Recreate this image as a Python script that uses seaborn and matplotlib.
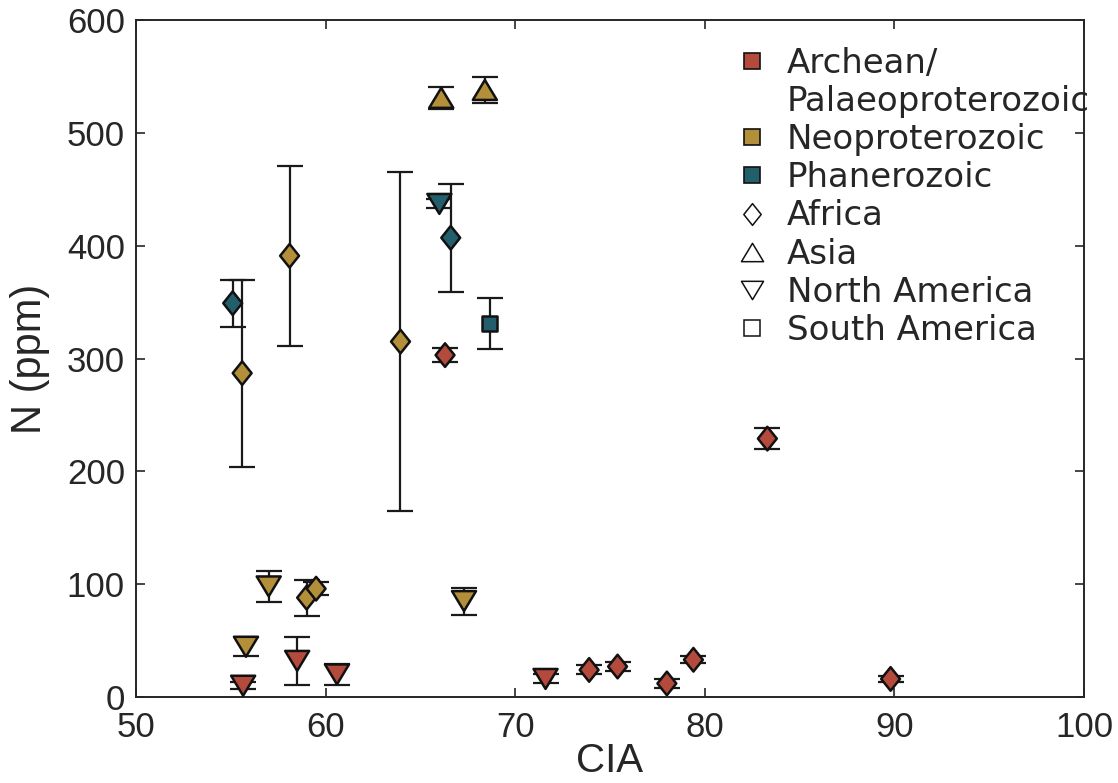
import numpy as np
import pandas as pd
import matplotlib
matplotlib.use("Agg")
import matplotlib.pyplot as plt
import seaborn as sns
from matplotlib.lines import Line2D
from matplotlib.path import Path

# ---------------- data ----------------
era = (["Archean/Palaeoproterozoic"] * 11
       + ["Neoproterozoic"] * 10
       + ["Phanerozoic"] * 4)
region = (["Africa"] * 7 + ["North America"] * 4
          + ["Africa"] * 5 + ["Asia"] * 2 + ["North America"] * 3
          + ["Africa", "North America", "Africa", "South America"])
cia = [83.3, 66.3, 89.8, 73.9, 75.4, 78.0, 79.4, 71.6, 55.65, 58.5, 60.6,
       55.6, 58.1, 63.95, 59.0, 59.5, 66.1, 68.4, 57.0, 55.8, 67.3,
       55.1, 66.0, 66.6, 68.65]
n_ppm = [229, 303, 16, 24, 27, 12, 33, 16, 10, 32, 20,
         287, 391, 315, 88, 96, 531, 538, 98, 44.5, 85,
         349, 437, 407, 331]
n_err = [9, 6, 3, 4, 4, 4, 3, 4, 3, 21, 9,
         83, 80, 150, 16, 6, 10, 11.5, 13.5, 8.5, 12,
         21, 4, 48, 23]

era_order = ["Archean/Palaeoproterozoic", "Neoproterozoic", "Phanerozoic"]
era_colors = ["#B34A3C", "#B48F3A", "#235E6C"]
region_order = ["Africa", "Asia", "North America", "South America"]

df = pd.DataFrame({"era": era, "region": region, "CIA": cia,
                   "N": n_ppm, "err": n_err})

# ---------------- markers ----------------
diamond = Path([(0, 1), (0.8, 0), (0, -1), (-0.8, 0), (0, 1)], closed=True)
tri_up = Path([(0, 0.83), (1, -0.83), (-1, -0.83), (0, 0.83)], closed=True)
tri_down = Path([(0, -0.83), (-1, 0.83), (1, 0.83), (0, -0.83)], closed=True)
marker_map = {"Africa": diamond, "Asia": tri_up,
              "North America": tri_down, "South America": "s"}
size_pt = {"Africa": 17.0, "Asia": 17.3, "North America": 17.3,
           "South America": 11.0}

# ---------------- style ----------------
sns.set_style("ticks")
plt.rcParams["font.family"] = ["Liberation Sans", "DejaVu Sans"]
dark = "#262626"

fig = plt.figure(figsize=(11.18, 7.83), dpi=100)
ax = fig.add_axes([136 / 1118, 1 - 697 / 783, 948 / 1118, 677 / 783])

ax.errorbar(df["CIA"], df["N"], yerr=df["err"], fmt="none",
            ecolor="#1a1a1a", elinewidth=1.6, capsize=9.5, capthick=1.6,
            zorder=2)

sns.scatterplot(data=df, x="CIA", y="N", hue="era", hue_order=era_order,
                palette=dict(zip(era_order, era_colors)),
                style="region", style_order=region_order, markers=marker_map,
                size="region", size_order=region_order,
                sizes={k: v ** 2 for k, v in size_pt.items()},
                edgecolor="#111111", linewidth=1.8, legend=False,
                ax=ax, zorder=3)

ax.set_xlim(50, 100)
ax.set_ylim(0, 600)
ax.set_xticks(np.arange(50, 101, 10))
ax.set_yticks(np.arange(0, 601, 100))
ax.tick_params(direction="in", length=6.5, width=1.2, top=True, right=True,
               labelsize=25, colors=dark)
ax.tick_params(axis="x", pad=10)
ax.tick_params(axis="y", pad=8)
for sp in ax.spines.values():
    sp.set_visible(True)
    sp.set_linewidth(1.4)
    sp.set_color(dark)
ax.set_xlabel("CIA", fontsize=29, color=dark, labelpad=-1)
ax.set_ylabel("N (ppm)", fontsize=30, color=dark, labelpad=12)

# ---------------- legend ----------------
handles, labels = [], []
era_labels = ["Archean/", "Neoproterozoic", "Phanerozoic"]
for i, (lab, col) in enumerate(zip(era_labels, era_colors)):
    handles.append(Line2D([], [], ls="none", marker="s", markersize=11,
                          markerfacecolor=col, markeredgecolor="#111111",
                          markeredgewidth=1.2))
    labels.append(lab)
    if i == 0:
        handles.append(Line2D([], [], ls="none", marker=None))
        labels.append("Palaeoproterozoic")
for r in region_order:
    handles.append(Line2D([], [], ls="none", marker=marker_map[r],
                          markersize=size_pt[r] * (0.92 if r != "South America" else 1.0),
                          markerfacecolor="white", markeredgecolor="#111111",
                          markeredgewidth=1.1))
    labels.append(r)

ax.legend(handles, labels, loc="upper left",
          bbox_to_anchor=((735 - 136) / 948, (697 - 47) / 677),
          frameon=False, borderpad=0, borderaxespad=0,
          handlelength=1.0, handletextpad=0.53, labelspacing=0.15,
          prop={"family": "DejaVu Sans", "size": 24.5})

fig.savefig("out.png", dpi=100)
